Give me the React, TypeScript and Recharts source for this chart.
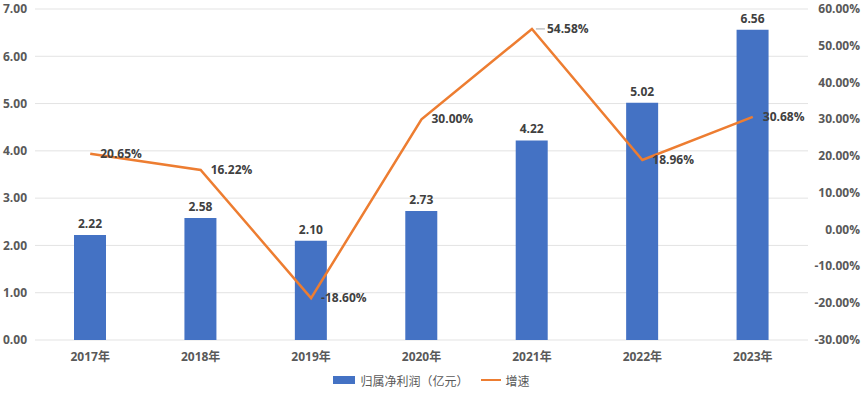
import React from 'react';
import { ComposedChart, Bar, Line, XAxis, YAxis, CartesianGrid, Legend, LabelList } from 'recharts';

const years = ['2017年', '2018年', '2019年', '2020年', '2021年', '2022年', '2023年'];
const profit = [2.22, 2.58, 2.10, 2.73, 4.22, 5.02, 6.56];
const growth = [20.65, 16.22, -18.6, 30.0, 54.58, 18.96, 30.68];
const leftTicks = [0, 1, 2, 3, 4, 5, 6, 7];
const rightTicks = [-30, -20, -10, 0, 10, 20, 30, 40, 50, 60];

const data = years.map((y, i) => ({ year: y, profit: profit[i], growth: growth[i] }));

const FONT = '"Open Sans", "Noto Sans CJK SC", sans-serif';
const AXIS_COLOR = '#595959';
const LABEL_COLOR = '#404040';
const BAR_COLOR = '#4472C4';
const LINE_COLOR = '#ED7D31';

const RightTick = (props: any) => {
  const { x, y, payload } = props;
  return (
    <text x={x + 44} y={y} dy={4} textAnchor="end" fill={AXIS_COLOR} fontSize={12} fontWeight="bold" fontFamily={FONT}>
      {payload.value.toFixed(2) + '%'}
    </text>
  );
};

const GrowthLabel = (props: any) => {
  const { x, y, value, index } = props;
  const lead = index === 4;
  return (
    <g>
      {lead && <line x1={x + 4} y1={y} x2={x + 13} y2={y} stroke="#a6a6a6" strokeWidth={1} />}
      <text x={x + (lead ? 15 : 10)} y={y} dy={4} textAnchor="start" fill={LABEL_COLOR} fontSize={12} fontWeight="bold" fontFamily={FONT}>
        {value.toFixed(2) + '%'}
      </text>
    </g>
  );
};

const LegendContent = () => (
  <div style={{ display: 'flex', justifyContent: 'center', alignItems: 'center', fontFamily: '"Noto Sans CJK SC", serif', fontSize: 12, color: AXIS_COLOR, height: 20 }}>
    <span style={{ display: 'inline-block', width: 22, height: 8, background: BAR_COLOR, marginRight: 5 }} />
    <span style={{ marginRight: 12 }}>归属净利润（亿元）</span>
    <span style={{ display: 'inline-block', width: 20, height: 2.5, background: LINE_COLOR, marginRight: 5 }} />
    <span>增速</span>
  </div>
);

export default function App() {
  return (
    <div style={{ position: 'fixed', left: 0, top: 0, width: 863, height: 396, background: '#fff' }}>
      <ComposedChart width={863} height={396} data={data} margin={{ top: 9, right: 0, bottom: 6, left: 0 }} barCategoryGap="71%">
        <CartesianGrid yAxisId="left" vertical={false} stroke="#e3e3e3" />
        <XAxis dataKey="year" axisLine={false} tickLine={false} height={30} tickMargin={6}
          tick={{ fill: AXIS_COLOR, fontSize: 12, fontWeight: 'bold', fontFamily: FONT }} interval={0} />
        <YAxis yAxisId="left" orientation="left" width={35} domain={[0, 7]} ticks={leftTicks} axisLine={false} tickLine={false}
          tickFormatter={(v: number) => v.toFixed(2)} tick={{ fill: AXIS_COLOR, fontSize: 12, fontWeight: 'bold', fontFamily: FONT }} />
        <YAxis yAxisId="right" orientation="right" width={55} domain={[-30, 60]} ticks={rightTicks} axisLine={false} tickLine={false}
          tick={<RightTick />} />
        <Legend verticalAlign="bottom" content={<LegendContent />} height={20} />
        <Bar yAxisId="left" dataKey="profit" fill={BAR_COLOR} barSize={32} isAnimationActive={false}>
          <LabelList dataKey="profit" position="top" offset={7} formatter={(v: any) => Number(v).toFixed(2)}
            style={{ fill: LABEL_COLOR, fontSize: 12, fontWeight: 'bold', fontFamily: FONT }} />
        </Bar>
        <Line yAxisId="right" dataKey="growth" stroke={LINE_COLOR} strokeWidth={2.5} dot={false} activeDot={false} isAnimationActive={false}>
          <LabelList dataKey="growth" content={<GrowthLabel />} />
        </Line>
      </ComposedChart>
    </div>
  );
}
